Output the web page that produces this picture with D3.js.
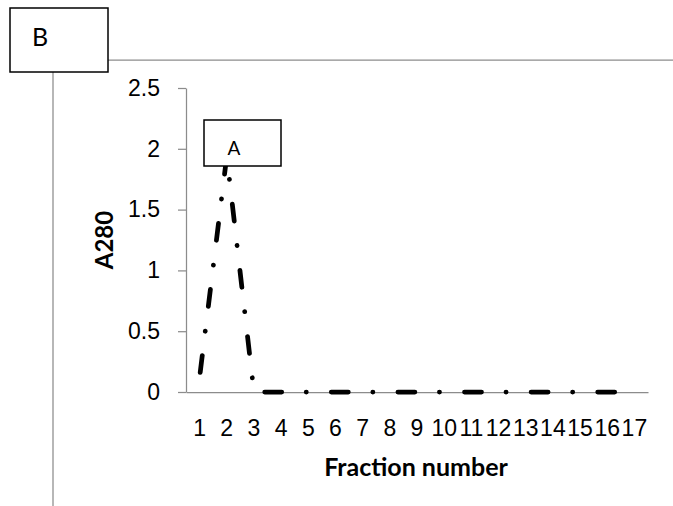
<!DOCTYPE html>
<html>
<head>
<meta charset="utf-8">
<script src="https://cdn.jsdelivr.net/npm/d3@7"></script>
<style>
  body { margin: 0; background: #fff; }
  svg { display: block; font-family: Lato, "Open Sans", sans-serif; }
</style>
</head>
<body>
<div id="chart"></div>
<script>
const fractions = [1, 2, 3, 4, 5, 6, 7, 8, 9, 10, 11, 12, 13, 14, 15, 16, 17]
const a280 = [0.12, 1.94, 0, 0, 0, 0, 0, 0, 0, 0, 0, 0, 0, 0, 0, 0, 0]
const yTicks = [0, 0.5, 1, 1.5, 2, 2.5]

function draw() {
    const dimensions = {
        width: 673,
        height: 506,
        margin: { top: 88, bottom: 114, left: 186, right: 25 }
    }
    const axisColor = '#8c8c8c'

    const svg = d3.select('#chart')
        .append('svg')
        .attr('width', dimensions.width)
        .attr('height', dimensions.height)

    // frame lines around the panel
    svg.append('line')
        .attr('x1', 108).attr('x2', dimensions.width)
        .attr('y1', 60).attr('y2', 60)
        .attr('stroke', axisColor).attr('stroke-width', 1.25)
    svg.append('line')
        .attr('x1', 53).attr('x2', 53)
        .attr('y1', 72).attr('y2', dimensions.height)
        .attr('stroke', axisColor).attr('stroke-width', 1.25)

    const xScale = d3.scaleBand()
        .domain(fractions)
        .range([dimensions.margin.left, dimensions.width - dimensions.margin.right])
    const yScale = d3.scaleLinear()
        .domain([0, 2.5])
        .range([dimensions.height - dimensions.margin.bottom, dimensions.margin.top])

    const yAxis = d3.axisLeft(yScale)
        .tickValues(yTicks)
        .tickFormat(d => String(d))
        .tickSize(8)
        .tickSizeOuter(0)
        .tickPadding(18)
    const yAxisGroup = svg.append('g')
        .attr('transform', `translate(${dimensions.margin.left}, 0)`)
        .call(yAxis)
    yAxisGroup.selectAll('path, line').attr('stroke', axisColor).attr('stroke-width', 1.25)
    yAxisGroup.selectAll('text')
        .attr('fill', '#000')
        .style('font-size', '23px')

    const xAxis = d3.axisBottom(xScale)
        .tickSize(0)
        .tickSizeOuter(0)
    const xAxisGroup = svg.append('g')
        .attr('transform', `translate(0, ${yScale(0)})`)
        .call(xAxis)
    xAxisGroup.select('.domain').attr('stroke', axisColor).attr('stroke-width', 1.25)
    xAxisGroup.selectAll('text')
        .attr('y', 44)
        .attr('dy', 0)
        .attr('fill', '#000')
        .style('font-size', '23px')

    svg.append('text')
        .attr('x', 416)
        .attr('y', 476)
        .attr('text-anchor', 'middle')
        .style('font-size', '25px')
        .style('font-weight', 'bold')
        .text('Fraction number')

    svg.append('text')
        .attr('transform', 'translate(113, 240) rotate(-90)')
        .attr('text-anchor', 'middle')
        .style('font-size', '24px')
        .style('font-weight', 'bold')
        .text('A280')

    const line = d3.line()
        .x((d, i) => xScale(fractions[i]) + xScale.bandwidth() / 2)
        .y(d => yScale(d))

    svg.append('path')
        .datum(a280)
        .attr('d', line)
        .attr('fill', 'none')
        .attr('stroke', '#000')
        .attr('stroke-width', 4.75)
        .attr('stroke-linecap', 'round')
        .attr('stroke-linejoin', 'round')
        .attr('stroke-dasharray', '17,24.5,0.1,25')
        .attr('stroke-dashoffset', -5)

    // label boxes
    svg.append('rect')
        .attr('x', 10).attr('y', 8)
        .attr('width', 98).attr('height', 64)
        .attr('fill', '#fff').attr('stroke', '#000').attr('stroke-width', 1.5)
    svg.append('text')
        .attr('x', 32).attr('y', 46)
        .style('font-size', '25px')
        .text('B')

    svg.append('rect')
        .attr('x', 204).attr('y', 120)
        .attr('width', 77).attr('height', 46)
        .attr('fill', '#fff').attr('stroke', '#000').attr('stroke-width', 1.5)
    svg.append('text')
        .attr('x', 234).attr('y', 155)
        .attr('text-anchor', 'middle')
        .style('font-size', '19px')
        .text('A')
}

draw()
</script>
</body>
</html>
